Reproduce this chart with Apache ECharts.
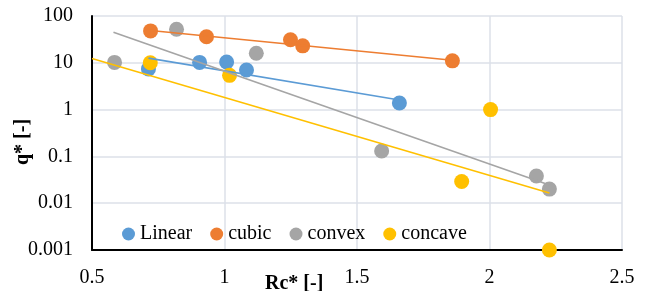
<!DOCTYPE html>
<html lang="en">
<head>
    <meta charset="UTF-8">
    <title>q* vs Rc*</title>
    <script src="https://cdn.jsdelivr.net/npm/echarts@6/dist/echarts.min.js"></script>
</head>
<body style="margin:0;">
<div id="main" style="width: 648px;height:291px;"></div>
<script>
    // data
    let seriesNames = ['Linear', 'cubic', 'convex', 'concave'];
    let colors = ['#5B9BD5', '#ED7D31', '#A5A5A5', '#FFC000'];
    let xTicks = ['0.5', '1', '1.5', '2', '2.5'];
    let yTicks = ['0.001', '0.01', '0.1', '1', '10', '100'];

    let linearPts = [[0.713, 7.4], [0.906, 10.2], [1.008, 10.4], [1.083, 7.0], [1.660, 1.38]];
    let cubicPts = [[0.721, 48], [0.932, 36], [1.249, 31], [1.295, 23], [1.860, 11]];
    let convexPts = [[0.585, 10.2], [0.819, 52], [1.120, 16], [1.593, 0.13], [2.177, 0.038], [2.226, 0.02]];
    let concavePts = [[0.720, 10], [1.019, 5.4], [2.004, 1.0], [1.895, 0.029], [2.226, 0.001]];

    // trend line end points (exponential fits, straight on log axis)
    let linearFit = [[0.713, 12.6], [1.660, 1.6]];
    let cubicFit = [[0.721, 49], [1.860, 11.3]];
    let convexFit = [[0.581, 45], [2.226, 0.0245]];
    let concaveFit = [[0.5, 12.3], [2.226, 0.0166]];

    let pts = [linearPts, cubicPts, convexPts, concavePts];
    let fits = [linearFit, cubicFit, convexFit, concaveFit];

    let font = "'Liberation Serif', 'Times New Roman', serif";

    let series = [];
    for (let i = 0; i < fits.length; i++) {
        series.push({
            name: seriesNames[i] + ' trend',
            type: 'line',
            data: fits[i],
            symbol: 'none',
            z: 5,
            silent: true,
            lineStyle: {color: colors[i], width: 1.6}
        });
    }
    for (let i = 0; i < pts.length; i++) {
        series.push({
            name: seriesNames[i],
            type: 'scatter',
            data: pts[i],
            symbolSize: 15,
            z: 3,
            itemStyle: {color: colors[i], opacity: 1}
        });
    }

    let chart = echarts.init(document.getElementById('main'));
    let option = {
        animation: false,
        color: colors,
        grid: {left: 92, right: 26, top: 16, bottom: 41},
        legend: {
            data: seriesNames,
            left: 117,
            top: 219,
            icon: 'circle',
            itemWidth: 13,
            itemHeight: 13,
            itemGap: 18,
            textStyle: {fontFamily: font, fontSize: 20, color: '#000'}
        },
        xAxis: {
            type: 'value',
            min: 0.5,
            max: 2.5,
            interval: 0.5,
            axisLine: {lineStyle: {color: '#000', width: 2}},
            axisTick: {show: false},
            axisLabel: {
                margin: 18,
                fontFamily: font,
                fontSize: 20,
                color: '#000',
                formatter: function (v) {
                    return xTicks[Math.round((v - 0.5) / 0.5)];
                }
            },
            splitLine: {show: true, lineStyle: {color: '#DCE1E8', width: 1.5}}
        },
        yAxis: {
            type: 'log',
            logBase: 10,
            min: 0.001,
            max: 100,
            axisLine: {show: true, lineStyle: {color: '#000', width: 2}},
            axisTick: {show: false},
            axisLabel: {
                margin: 19,
                fontFamily: font,
                fontSize: 20,
                color: '#000',
                formatter: function (v) {
                    return yTicks[Math.round(Math.log10(v)) + 3];
                }
            },
            splitLine: {show: true, lineStyle: {color: '#DCE1E8', width: 1.5}}
        },
        graphic: [
            {
                type: 'text',
                left: 265,
                top: 274,
                style: {text: 'Rc* [-]', font: 'bold 20px ' + font, fill: '#000'}
            },
            {
                type: 'text',
                x: 13,
                y: 165,
                rotation: Math.PI / 2,
                style: {text: 'q* [-]', font: 'bold 20px ' + font, fill: '#000'}
            }
        ],
        series: series
    };
    chart.setOption(option);
</script>
</body>
</html>
